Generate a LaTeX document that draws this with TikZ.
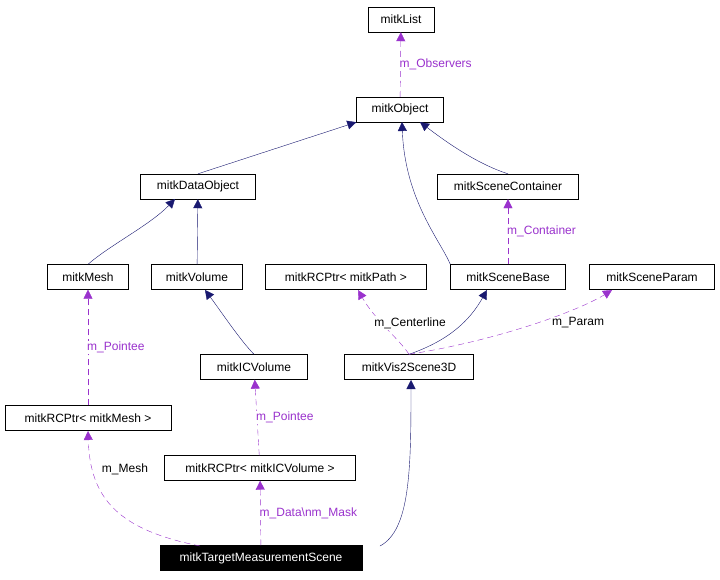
\documentclass[tikz,border=0pt]{standalone}
\usepackage{fontspec}
\setmainfont{Liberation Sans}
\usetikzlibrary{arrows.meta}
\definecolor{navy}{RGB}{25,25,112}
\definecolor{purp}{RGB}{154,50,205}
\begin{document}
\begin{tikzpicture}[x=1pt,y=-1pt,
  box/.style={draw,fill=white,minimum height=25pt,inner xsep=4pt,font=\fontsize{12}{14}\selectfont},
  inh/.style={navy,-{Triangle[length=9pt,width=9pt]}},
  use/.style={purp,dashed,dash pattern=on 6pt off 4pt,-{Triangle[length=9pt,width=9pt]}},
  lab/.style={font=\fontsize{12}{14}\selectfont,fill=white,inner sep=1pt}]
\useasboundingbox (0,0) rectangle (720,579);
\node[box,minimum width=66pt] (list) at (401,19.5) {mitkList};
\node[box,minimum width=87pt] (obj) at (400,109.5) {mitkObject};
\node[box,minimum width=115pt] (dobj) at (198,186.5) {mitkDataObject};
\node[box,minimum width=141pt] (scont) at (508,186.5) {mitkSceneContainer};
\node[box,minimum width=81pt] (mesh) at (88,277) {mitkMesh};
\node[box,minimum width=91pt] (vol) at (197,277) {mitkVolume};
\node[box,minimum width=161pt] (rpath) at (346,277) {mitkRCPtr< mitkPath >};
\node[box,minimum width=115pt] (sbase) at (508,277) {mitkSceneBase};
\node[box,minimum width=125pt] (sparam) at (652,277) {mitkSceneParam};
\node[box,minimum width=107pt] (icv) at (254,367) {mitkICVolume};
\node[box,minimum width=129pt] (vis) at (409,367) {mitkVis2Scene3D};
\node[box,minimum width=166pt] (rmesh) at (88,418) {mitkRCPtr< mitkMesh >};
\node[box,minimum width=191pt] (ricv) at (260,468) {mitkRCPtr< mitkICVolume >};
\node[box,minimum width=202pt,fill=black,text=white] (tms) at (261,558) {mitkTargetMeasurementScene};

\draw[use] (obj) -- (list) node[midway,lab,right=-2pt] {m\_Observers};
\draw[inh] (dobj.north) -- (obj.south west);
\draw[inh] (scont.north) .. controls (480,165) and (450,145) .. (420,122);
\draw[inh] (sbase.north west) .. controls (440,240) and (405,200) .. (402,122);
\draw[inh] (mesh.north) .. controls (110,245) and (150,225) .. (175,199);
\draw[inh] (vol) -- (dobj);
\draw[use] (sbase) -- (scont) node[midway,lab,right=-2pt] {m\_Container};
\draw[inh] (icv.north) .. controls (240,340) and (220,310) .. (205,290);
\draw[inh] (vis.north) .. controls (450,340) and (470,320) .. (487,290);
\draw[use] (vis.north) .. controls (400,340) and (375,320) .. (358,290);
\node[lab] at (410,323) {m\_Centerline};
\draw[use] (vis.north) .. controls (500,340) and (580,310) .. (612,290);
\node[lab] at (578,323) {m\_Param};
\draw[use] (rmesh) -- (mesh) node[midway,lab,right=-2pt] {m\_Pointee};
\draw[use] (ricv) -- (icv) node[midway,lab,right=-2pt] {m\_Pointee};
\draw[use] (tms) -- (ricv) node[midway,lab,right=-2pt] {m\_Data\textbackslash nm\_Mask};
\draw[use] (200,546) .. controls (120,530) and (90,500) .. (88,431);
\node[lab] at (125,469) {m\_Mesh};
\draw[inh] (380,546) .. controls (410,530) and (411,470) .. (411,380);
\end{tikzpicture}
\end{document}
